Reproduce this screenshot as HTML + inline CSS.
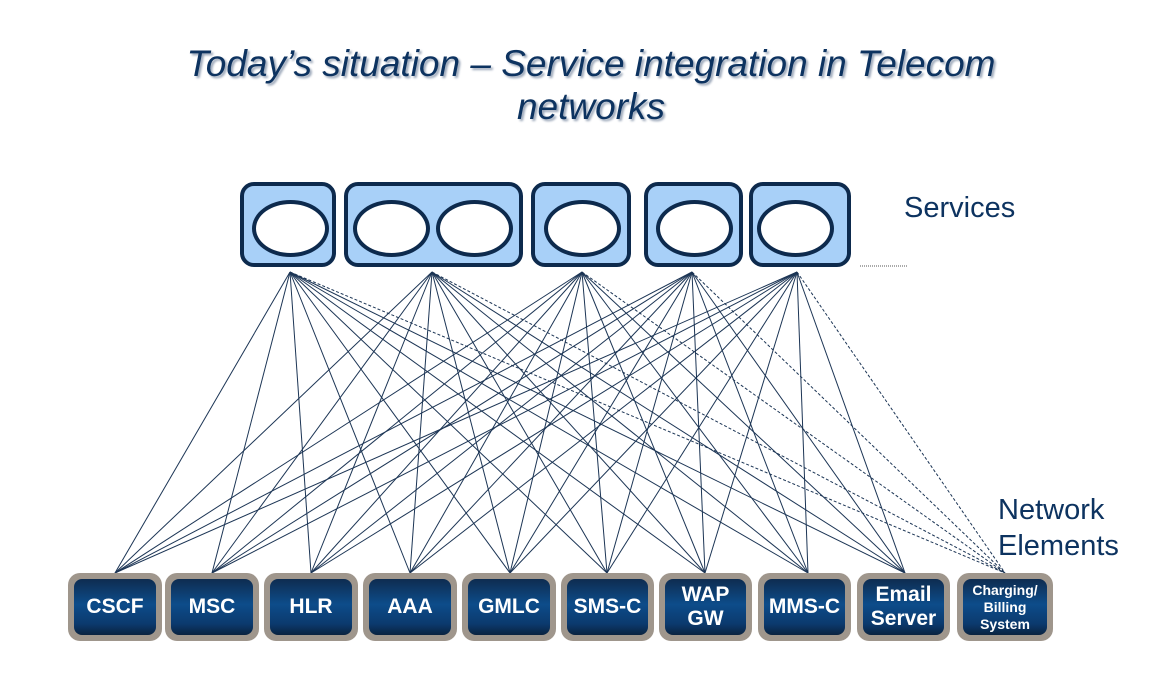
<!DOCTYPE html>
<html><head><style>
body{margin:0;width:1160px;height:688px;background:#fff;position:relative;overflow:hidden;font-family:"Liberation Sans",sans-serif}
.t{position:absolute;left:0;width:1182px;text-align:center;font-style:italic;font-size:37px;color:#0d3360;text-shadow:2px 2px 2px #9aa6b8;line-height:42px}
.lbl{position:absolute;color:#0d3360;font-size:29px;line-height:36px}
.sb{position:absolute;top:182px;height:85px;background:#a8d0f8;border:4px solid #0d2a4d;border-radius:14px;box-sizing:border-box}
.ov{position:absolute;top:14px;width:77px;height:57px;border:4px solid #0d2a4d;border-radius:50%;background:#fff;box-sizing:border-box}
.ne{position:absolute;top:573px;height:68px;background:#9f968c;border-radius:12px;box-sizing:border-box;padding:6px}
.ne div{width:100%;height:100%;border-radius:8px;background:linear-gradient(#0e2c50,#0d4c8a 45%,#0b3a6e 80%,#0a2340);color:#fff;font-weight:bold;font-size:21px;display:flex;align-items:center;justify-content:center;text-align:center;line-height:24px}
</style></head><body>
<div class="t" style="top:43px">Today’s situation – Service integration in Telecom</div>
<div class="t" style="top:86px">networks</div>
<div class="lbl" style="left:904px;top:190px">Services</div>
<div class="lbl" style="left:998px;top:492px">Network<br>Elements</div>
<svg style="position:absolute;left:0;top:0" width="1160" height="688">
<line x1="860" y1="266" x2="907" y2="266" stroke="#555" stroke-dasharray="1,1"/>
<g stroke="#1c3555" stroke-width="1" id="g"></g>
</svg>
<div class="sb" style="left:240px;width:96px"><div class="ov" style="left:8px"></div></div>
<div class="sb" style="left:344px;width:179px"><div class="ov" style="left:5px"></div><div class="ov" style="left:88px"></div></div>
<div class="sb" style="left:531px;width:100px"><div class="ov" style="left:9px"></div></div>
<div class="sb" style="left:644px;width:99px"><div class="ov" style="left:8px"></div></div>
<div class="sb" style="left:749px;width:102px"><div class="ov" style="left:4px"></div></div>
<div class="ne" style="left:68px;width:94px"><div>CSCF</div></div>
<div class="ne" style="left:165px;width:94px"><div>MSC</div></div>
<div class="ne" style="left:264px;width:94px"><div>HLR</div></div>
<div class="ne" style="left:363px;width:94px"><div>AAA</div></div>
<div class="ne" style="left:462px;width:94px"><div>GMLC</div></div>
<div class="ne" style="left:561px;width:93px"><div>SMS-C</div></div>
<div class="ne" style="left:659px;width:93px"><div>WAP<br>GW</div></div>
<div class="ne" style="left:758px;width:93px"><div>MMS-C</div></div>
<div class="ne" style="left:857px;width:93px"><div>Email<br>Server</div></div>
<div class="ne" style="left:957px;width:96px"><div style="font-size:14px;line-height:17px">Charging/<br>Billing<br>System</div></div>
<script>
var s=[290,432,582,692,797],b=[115,212,311,410,510,607,705,808,905],g=document.getElementById('g'),h='';
s.forEach(function(x){b.forEach(function(y){h+='<line x1="'+x+'" y1="272" x2="'+y+'" y2="573"/>'});h+='<line x1="'+x+'" y1="272" x2="1005" y2="573" stroke-dasharray="3,2"/>'});
g.innerHTML=h;
</script>
</body></html>
